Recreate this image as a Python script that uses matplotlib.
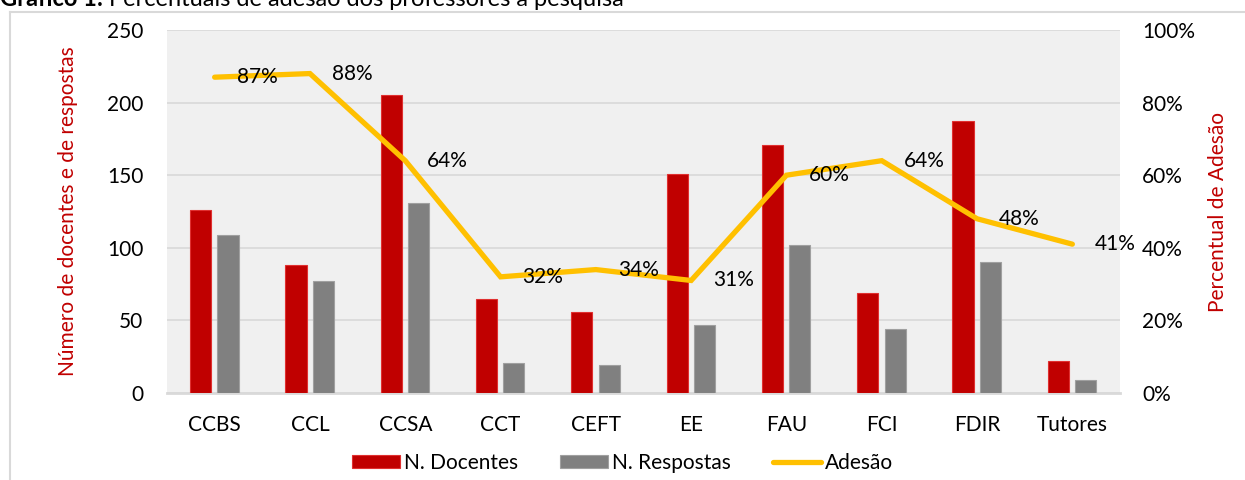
import matplotlib.pyplot as plt
from matplotlib.lines import Line2D
import numpy as np

# dados
unidades = ["CCBS", "CCL", "CCSA", "CCT", "CEFT", "EE", "FAU", "FCI", "FDIR", "Tutores"]
docentes = [126, 88, 205, 65, 56, 151, 171, 69, 187, 22]
respostas = [109, 77, 131, 21, 19, 47, 102, 44, 90, 9]
adesao = [87, 88, 64, 32, 34, 31, 60, 64, 48, 41]

VERMELHO = "#C00000"
CINZA = "#808080"
AMARELO = "#FFC000"

plt.rcParams["font.family"] = ["Lato", "DejaVu Sans"]
plt.rcParams["font.size"] = 15

fig = plt.figure(figsize=(12.45, 4.8), dpi=100)
ax = fig.add_axes([167 / 1245, 87 / 480, 953 / 1245, 363 / 480])
ax.set_facecolor("#F0F0F0")

x = np.arange(len(unidades))
w = 0.222
b1 = ax.bar(x - 0.147, docentes, w, color=VERMELHO, edgecolor="#E03030", linewidth=0.8,
            label="N. Docentes", zorder=3)
b2 = ax.bar(x + 0.14, respostas, w, color=CINZA, edgecolor="#A0A0A0", linewidth=0.8,
            label="N. Respostas", zorder=3)

ax.set_ylim(0, 250)
ax.set_xlim(-0.5, len(unidades) - 0.5)
ax.set_yticks(range(0, 251, 50))
ax.set_xticks(x)
ax.set_xticklabels(unidades)
ax.yaxis.grid(True, color="#D9D9D9", linewidth=1.2, zorder=0)
ax.set_axisbelow(True)
for s in ["top", "left", "right"]:
    ax.spines[s].set_visible(False)
ax.spines["bottom"].set_color("#D9D9D9")
ax.spines["bottom"].set_linewidth(2)
ax.tick_params(axis="y", length=0, pad=17)
ax.tick_params(axis="x", length=0, pad=16)
ax.set_ylabel("Número de docentes e de respostas", color=VERMELHO, labelpad=21)

ax2 = ax.twinx()
ln, = ax2.plot(x, adesao, color=AMARELO, linewidth=3.8, solid_capstyle="round",
               solid_joinstyle="miter", label="Adesão", zorder=4)
ax2.set_ylim(0, 100)
ax2.set_yticks(range(0, 101, 20))
ax2.set_yticklabels([f"{v}%" for v in range(0, 101, 20)])
ax2.tick_params(axis="y", length=0, pad=16)
for s in ax2.spines.values():
    s.set_visible(False)
ax2.set_ylabel("Percentual de Adesão", color=VERMELHO, labelpad=9)

for xi, v in zip(x, adesao):
    ax2.annotate(f"{v}%", xy=(xi, v), xytext=(22, 0), textcoords="offset pixels",
                 ha="left", va="center", fontsize=15, zorder=5)

fig.legend(handles=[b1, b2, ln], loc="center", bbox_to_anchor=(0.5, 17 / 480), ncol=3,
           frameon=False, handlelength=2.3, handleheight=0.6, handletextpad=0.2,
           columnspacing=2.0, fontsize=15)

# moldura do gráfico
fig.add_artist(Line2D([10 / 1245, 10 / 1245], [0, 1 - 12 / 480], color="#D9D9D9", linewidth=1.5))
fig.add_artist(Line2D([10 / 1245, 1], [1 - 12 / 480, 1 - 12 / 480], color="#D9D9D9", linewidth=1.5))

t1 = fig.text(0.0, 1 - 6 / 480, "Gráfico 1:", fontweight="bold", fontsize=17, va="baseline")
ax.annotate(" Percentuais de adesão dos professores à pesquisa", xy=(1, 0), xycoords=t1,
            va="bottom", ha="left", fontsize=17, annotation_clip=False)

fig.savefig("out.png", dpi=100)
